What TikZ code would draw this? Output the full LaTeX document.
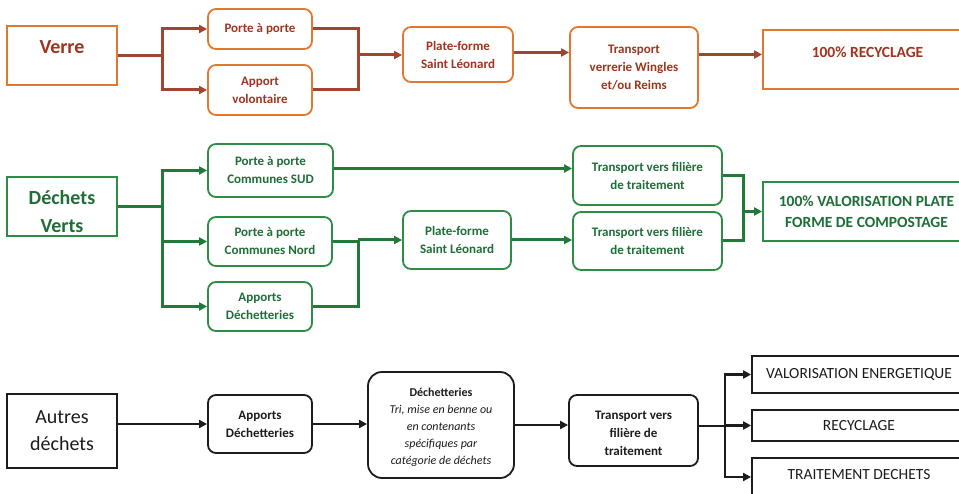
\documentclass[tikz,border=0pt]{standalone}
\usepackage{fontspec}
\setmainfont{Carlito}
\usetikzlibrary{arrows.meta,calc}
\definecolor{orB}{HTML}{E2782E}
\definecolor{orL}{HTML}{A04630}
\definecolor{orT}{HTML}{A0341E}
\definecolor{grB}{HTML}{2E8C45}
\definecolor{grL}{HTML}{217A3A}
\definecolor{grT}{HTML}{1E6E38}
\definecolor{bkB}{HTML}{1C1C1C}
\tikzset{
  base/.style={inner sep=0pt, align=center, fill=white, line width=1.8pt},
  sm/.style={font=\bfseries\fontsize{13}{18}\selectfont},
  big/.style={font=\bfseries\fontsize{20}{28}\selectfont},
  mid/.style={font=\bfseries\fontsize{15.5}{21}\selectfont},
  oR/.style={base, draw=orB, text=orT, rounded corners=8pt},
  oS/.style={base, draw=orB, text=orT},
  gR/.style={base, draw=grB, text=grT, rounded corners=8pt},
  gS/.style={base, draw=grB, text=grT},
  kR/.style={base, draw=bkB, text=bkB, rounded corners=8pt},
  kS/.style={base, draw=bkB, text=bkB},
  tip/.style={-{Triangle[length=8pt,width=8pt]}},
  lnO/.style={draw=orL, line width=3pt},
  lnG/.style={draw=grL, line width=3pt},
  lnK/.style={draw=bkB, line width=2.6pt},
}
\begin{document}
\begin{tikzpicture}[x=1pt,y=-1pt]
\clip (0,0) rectangle (959,494);
\fill[white] (0,0) rectangle (959,494);
% ---------- Row 1 : Verre ----------
\node[oS, minimum width=110, minimum height=59, label={[big, text=orT, yshift=8pt]center:Verre}] (verre) at (62,55.5) {};
\node[oR, sm, minimum width=104, minimum height=40] (pap) at (260,29) {Porte à porte};
\node[oR, sm, minimum width=104, minimum height=50] (apv) at (260,90) {Apport\\volontaire};
\node[oR, sm, minimum width=110, minimum height=55] (pf1) at (458,54.5) {Plate-forme\\Saint Léonard};
\node[oR, sm, minimum width=128, minimum height=81] (tv) at (634,67.5) {Transport\\verrerie Wingles\\et/ou Reims};
\node[oS, minimum width=209, minimum height=59, label={[mid, text=orT, yshift=7.5pt]center:100\% RECYCLAGE}] (rec) at (867.5,59.5) {};
\coordinate (j1) at (358,55);
\draw[lnO, tip] (verre.east) -- ++(45,0) |- (pap.west);
\draw[lnO, tip] (verre.east) -- ++(45,0) |- (apv.west);
\draw[lnO] (pap.east) -| (j1) |- (apv.east);
\draw[lnO, tip] (j1) -- (j1 -| pf1.west);
\draw[lnO, tip] ($(pf1.east)+(0,-2)$) -- ($(pf1.east -| tv.west)+(0,-2)$);
\draw[lnO, tip] ($(tv.east)+(0,-13)$) -- ($(tv.east -| rec.west)+(0,-13)$);
% ---------- Row 2 : Dechets verts ----------
\node[gS, minimum width=110, minimum height=59, label={[big, align=center, text=grT, yshift=-5pt]center:Déchets\\Verts}] (dv) at (62,206.5) {};
\node[gR, sm, minimum width=125, minimum height=53] (sud) at (270.5,170.5) {Porte à porte\\Communes SUD};
\node[gR, sm, minimum width=124, minimum height=49] (nord) at (270,241.5) {Porte à porte\\Communes Nord};
\node[gR, sm, minimum width=104, minimum height=49] (apd) at (260,306.5) {Apports\\Déchetteries};
\node[gR, sm, minimum width=108, minimum height=58] (pf2) at (457,240) {Plate-forme\\Saint Léonard};
\node[gR, sm, minimum width=149, minimum height=59] (t2a) at (647.5,175.5) {Transport vers filière\\de traitement};
\node[gR, sm, minimum width=149, minimum height=58] (t2b) at (647.5,241) {Transport vers filière\\de traitement};
\node[gS, mid, minimum width=207, minimum height=59] (val) at (866.5,211.5) {100\% VALORISATION PLATE\\FORME DE COMPOSTAGE};
\coordinate (j2) at (358,240);
\coordinate (j3) at (743,211.5);
\draw[lnG, tip] (dv.east) -- ++(45,0) |- (sud.west);
\draw[lnG, tip] (dv.east) -- ++(45,0) |- (nord.west);
\draw[lnG, tip] (dv.east) -- ++(45,0) |- (apd.west);
\draw[lnG, tip] ($(sud.east)+(0,-2)$) -- ($(sud.east -| t2a.west)+(0,-2)$);
\draw[lnG] (nord.east) -| (j2);
\draw[lnG] (apd.east) -| (j2);
\draw[lnG, tip] (j2) -- (j2 -| pf2.west);
\draw[lnG, tip] (pf2.east) -- (pf2.east -| t2b.west);
\draw[lnG] (t2a.east) -| (j3);
\draw[lnG] (t2b.east) -| (j3);
\draw[lnG, tip] (j3) -- (j3 -| val.west);
% ---------- Row 3 : Autres dechets ----------
\node[kS, font=\fontsize{20}{27}\selectfont, minimum width=110, minimum height=74] (aut) at (62,431) {Autres\\déchets};
\node[kR, sm, minimum width=104, minimum height=58] (apd3) at (260,424) {Apports\\Déchetteries};
\node[kR, rounded corners=14pt, minimum width=146, minimum height=106, label={[font=\fontsize{12}{17}\selectfont, align=center, text=bkB, yshift=-2.5pt]center:\textbf{Déchetteries}\\\textit{Tri, mise en benne ou}\\\textit{en contenants}\\\textit{spécifiques par}\\\textit{catégorie de déchets}}] (dec) at (441,425) {};
\node[kR, minimum width=129, minimum height=71, label={[sm, align=center, text=bkB, yshift=-3pt]center:Transport vers\\filière de\\traitement}] (t3) at (633.5,430.5) {};
\node[kS, font=\fontsize{15.5}{20}\selectfont, minimum width=214, minimum height=37] (ve) at (859,374.5) {VALORISATION ENERGETIQUE};
\node[kS, font=\fontsize{15.5}{20}\selectfont, minimum width=214, minimum height=31] (rc) at (859,425.5) {RECYCLAGE};
\node[kS, minimum width=214, minimum height=38, label={[font=\fontsize{15.5}{20}\selectfont, text=bkB, yshift=2pt]center:TRAITEMENT DECHETS}] (td) at (859,477) {};
\coordinate (j4) at (725,426);
\draw[lnK, tip] (aut.east |- apd3.west) -- (apd3.west);
\draw[lnK, tip] (apd3.east) -- (apd3.east -| dec.west);
\draw[lnK, tip] (dec.east) -- (dec.east -| t3.west);
\draw[lnK] (t3.east |- j4) -- (j4);
\draw[lnK, tip] (j4) |- (ve.west);
\draw[lnK, tip] (j4) |- (rc.west);
\draw[lnK, tip] (j4) |- (td.west);
\end{tikzpicture}
\end{document}
